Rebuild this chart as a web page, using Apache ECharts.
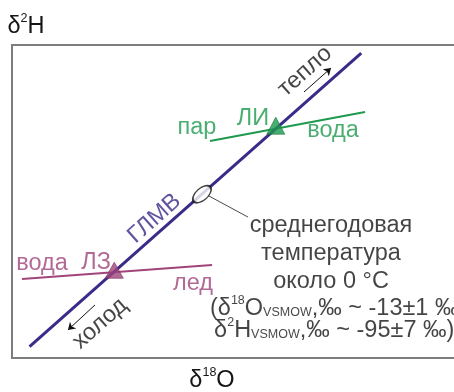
<!DOCTYPE html>
<html>
<head>
<meta charset="utf-8">
<script src="https://cdn.jsdelivr.net/npm/echarts@6/dist/echarts.min.js"></script>
<style>
  html, body { margin: 0; padding: 0; background: #ffffff; }
  #chart { width: 454px; height: 392px; }
</style>
</head>
<body>
<div id="chart"></div>
<script>
// Isotopic composition, δ18O and δ2H in ‰ VSMOW.
// Global meteoric water line (ГЛМВ), drawn segment
const gmwlLine = [[-24.8, -188], [-2.1, -7]];
// Evaporation line (пар — вода) through the summer point ЛИ
const evapLine = [[-12.45, -61.2], [-1.84, -43.3]];
const summerPoint = [[-7.95, -53.6]];
// Freezing line (вода — лед) through the winter point ЛЗ
const freezeLine = [[-25.32, -146.3], [-12.31, -137.7]];
const winterPoint = [[-19.0, -142.1]];
// Mean annual composition and its callout
const meanPoint = [[-13, -94]];
const meanLeader = [[-12.65, -94.5], [-9.85, -108.1]];
// Warm / cold trend arrows along the line
const warmArrow = [[-6.02, -31.0], [-4.17, -16.2]];
const coldArrow = [[-20.32, -162.3], [-22.17, -177.7]];

// Axis ranges
const xRange = [-26, 5];
const yRange = [-195, -2];

const FONT = '"Liberation Sans", Arial, sans-serif';
const FS = 23.5;
const C_GMWL = '#3a2b88';
const C_GREEN = '#1e9a4e';
const C_PINK = '#a0447a';
const C_TEXT = '#151515';

const rich = {
  sup: { fontSize: 12.5, lineHeight: 12, height: 7, verticalAlign: 'top', fontFamily: FONT, color: C_TEXT },
  sub: { fontSize: 12.5, lineHeight: 13, verticalAlign: 'bottom', fontFamily: FONT, color: C_TEXT }
};

function note(pos, text, color, extra) {
  return {
    value: pos,
    label: Object.assign({
      show: true,
      position: 'inside',
      formatter: text,
      color: color,
      fontSize: FS,
      fontFamily: FONT,
      rich: rich
    }, extra || {})
  };
}

const slope = 41.6;
const hiddenAxis = {
  axisLine: { show: false, onZero: false }, axisTick: { show: false },
  axisLabel: { show: false }, splitLine: { show: false }
};

const chart = echarts.init(document.getElementById('chart'), null, { renderer: 'canvas' });
chart.setOption({
  animation: false,
  backgroundColor: '#ffffff',
  grid: {
    left: 12, right: -11, top: 45, bottom: 34,
    show: true, borderColor: '#7d7d7d', borderWidth: 2,
    backgroundColor: '#ffffff',
    containLabel: false, outerBoundsMode: 'none'
  },
  xAxis: Object.assign({
    type: 'value', min: xRange[0], max: xRange[1],
    name: 'δ{sup|18}O', nameLocation: 'middle', nameGap: 11,
    nameTextStyle: { fontSize: FS, fontFamily: FONT, color: C_TEXT, padding: [0, 53, 0, 0], rich: rich }
  }, hiddenAxis),
  yAxis: Object.assign({
    type: 'value', min: yRange[0], max: yRange[1],
    name: 'δ{sup|2}H', nameLocation: 'end', nameGap: 6,
    nameTextStyle: { fontSize: FS, fontFamily: FONT, color: C_TEXT, padding: [0, 0, 0, 28], rich: rich }
  }, hiddenAxis),
  series: [
    {
      name: 'ГЛМВ', type: 'line', data: gmwlLine, showSymbol: false, silent: true,
      lineStyle: { color: C_GMWL, width: 3 }, z: 3
    },
    {
      name: 'испарение', type: 'line', data: evapLine, showSymbol: false, silent: true,
      lineStyle: { color: C_GREEN, width: 2 }, z: 2
    },
    {
      name: 'замерзание', type: 'line', data: freezeLine, showSymbol: false, silent: true,
      lineStyle: { color: C_PINK, width: 2 }, z: 2
    },
    {
      name: 'выноска', type: 'line', data: meanLeader, showSymbol: false, silent: true,
      lineStyle: { color: '#4a4a4a', width: 1 }, z: 2
    },
    {
      name: 'ЛИ', type: 'scatter', data: summerPoint, symbol: 'triangle',
      symbolSize: [18, 17], symbolOffset: [0, -3], silent: true,
      itemStyle: { color: C_GREEN, borderColor: '#137a3a', borderWidth: 0.8 }, z: 5
    },
    {
      name: 'ЛЗ', type: 'scatter', data: winterPoint, symbol: 'triangle',
      symbolSize: [18, 16], symbolOffset: [0, -2], silent: true,
      itemStyle: { color: C_PINK, borderColor: '#7d2e5c', borderWidth: 0.8 }, z: 5
    },
    {
      name: 'среднегодовая', type: 'scatter', data: meanPoint, symbol: 'circle',
      symbolSize: [22, 12], symbolRotate: slope, silent: true,
      itemStyle: { color: '#ffffff', borderColor: '#111111', borderWidth: 1.6 }, z: 5
    },
    {
      name: 'стрелки', type: 'lines', coordinateSystem: 'cartesian2d', silent: true,
      symbol: ['none', 'arrow'], symbolSize: 7,
      lineStyle: { color: '#111111', width: 1, opacity: 1, curveness: 0 },
      data: [{ coords: warmArrow }, { coords: coldArrow }], z: 4
    },
    {
      name: 'подписи', type: 'scatter', symbolSize: 0, silent: true, z: 6,
      data: [
        note([-13.34, -52.9], 'пар', C_GREEN),
        note([-9.51, -47.3], 'ЛИ', C_GREEN),
        note([-4.03, -54.7], 'вода', C_GREEN),
        note([-5.95, -18.2], 'тепло', C_TEXT, { rotate: slope }),
        note([-16.25, -109.0], 'ГЛМВ', C_GMWL, { rotate: slope }),
        note([-23.95, -136.7], 'вода', C_PINK),
        note([-20.25, -136.1], 'ЛЗ', C_PINK),
        note([-13.61, -149.1], 'лед', C_PINK),
        note([-19.98, -173.8], 'холод', C_TEXT, { rotate: slope }),
        note([-4.17, -130.4], 'среднегодовая\nтемпература\nоколо 0 °C', C_TEXT,
          { lineHeight: 28, align: 'center' }),
        note([-3.95, -171.0],
          '(δ{sup|18}O{sub|VSMOW},‰ ~ -13±1 ‰\nδ{sup|2}H{sub|VSMOW},‰ ~ -95±7 ‰)', C_TEXT,
          { lineHeight: 22, align: 'center' })
      ]
    }
  ]
});
</script>
</body>
</html>
